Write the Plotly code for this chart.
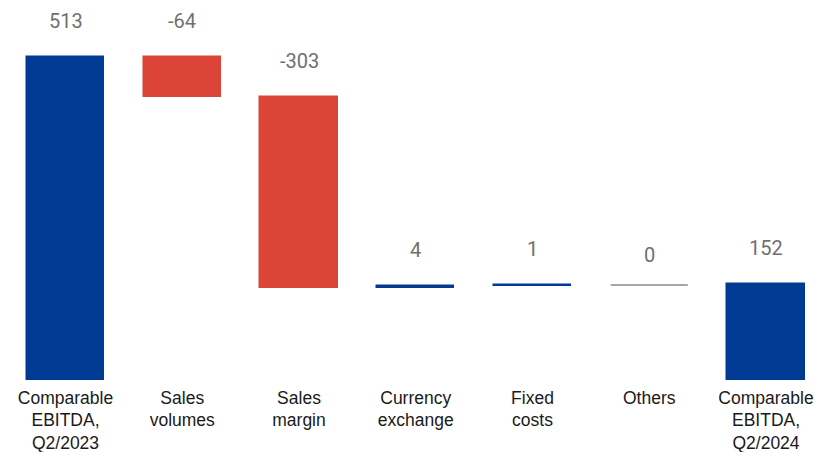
import plotly.graph_objects as go

# Comparable EBITDA bridge, Q2/2023 -> Q2/2024
categories = [
    "Comparable<br>EBITDA,<br>Q2/2023",
    "Sales<br>volumes",
    "Sales<br>margin",
    "Currency<br>exchange",
    "Fixed<br>costs",
    "Others",
    "Comparable<br>EBITDA,<br>Q2/2024",
]
start_value = 513
changes = [-64, -303, 4, 1, 0]
end_value = 152

BLUE = "#013a93"
RED = "#db4437"
GREY_LINE = "#8a8a8a"
LABEL_GREY = "#707070"
BAR_WIDTH = 0.66

# bases / heights for every column of the bridge
bases, heights, colors, labels = [0], [start_value], [BLUE], [str(start_value)]
running = start_value
for d in changes:
    bases.append(running)
    heights.append(d)
    colors.append(RED if d < 0 else BLUE)
    labels.append(str(d))
    running += d
bases.append(0)
heights.append(end_value)
colors.append(BLUE)
labels.append(str(end_value))

xs = list(range(len(categories)))
bar_idx = [i for i in xs if heights[i] != 0]
zero_idx = [i for i in xs if heights[i] == 0]

fig = go.Figure()
fig.add_trace(go.Bar(
    x=[xs[i] for i in bar_idx],
    y=[heights[i] for i in bar_idx],
    base=[bases[i] for i in bar_idx],
    width=BAR_WIDTH,
    marker=dict(color=[colors[i] for i in bar_idx],
                line=dict(color=[colors[i] for i in bar_idx], width=1.5)),
    hoverinfo="skip",
    showlegend=False,
))

# unchanged items are drawn as a flat grey line at the running level
for i in zero_idx:
    fig.add_trace(go.Scatter(
        x=[i - BAR_WIDTH / 2, i + BAR_WIDTH / 2],
        y=[bases[i], bases[i]],
        mode="lines",
        line=dict(color=GREY_LINE, width=1.5),
        hoverinfo="skip",
        showlegend=False,
    ))

# value labels above each column
for i in xs:
    top = max(bases[i], bases[i] + heights[i])
    fig.add_annotation(
        x=i, y=top, text=labels[i], showarrow=False,
        yanchor="middle", yshift=30 if heights[i] == 0 else 36,
        font=dict(family="Roboto", size=20, color=LABEL_GREY),
    )

fig.update_layout(
    width=821, height=452,
    margin=dict(l=0, r=0, t=0, b=72),
    paper_bgcolor="white", plot_bgcolor="white",
    bargap=0,
    xaxis=dict(
        range=[-0.561, 6.471],
        tickmode="array", tickvals=xs, ticktext=categories,
        showgrid=False, zeroline=False, showline=False, ticks="",
        ticklabelstandoff=5,
        tickfont=dict(family="Liberation Sans", size=17.5, color="#1a1a1a"),
        automargin=False,
    ),
    yaxis=dict(range=[0, 603.5], visible=False, automargin=False),
)

fig.write_html("out.html")
